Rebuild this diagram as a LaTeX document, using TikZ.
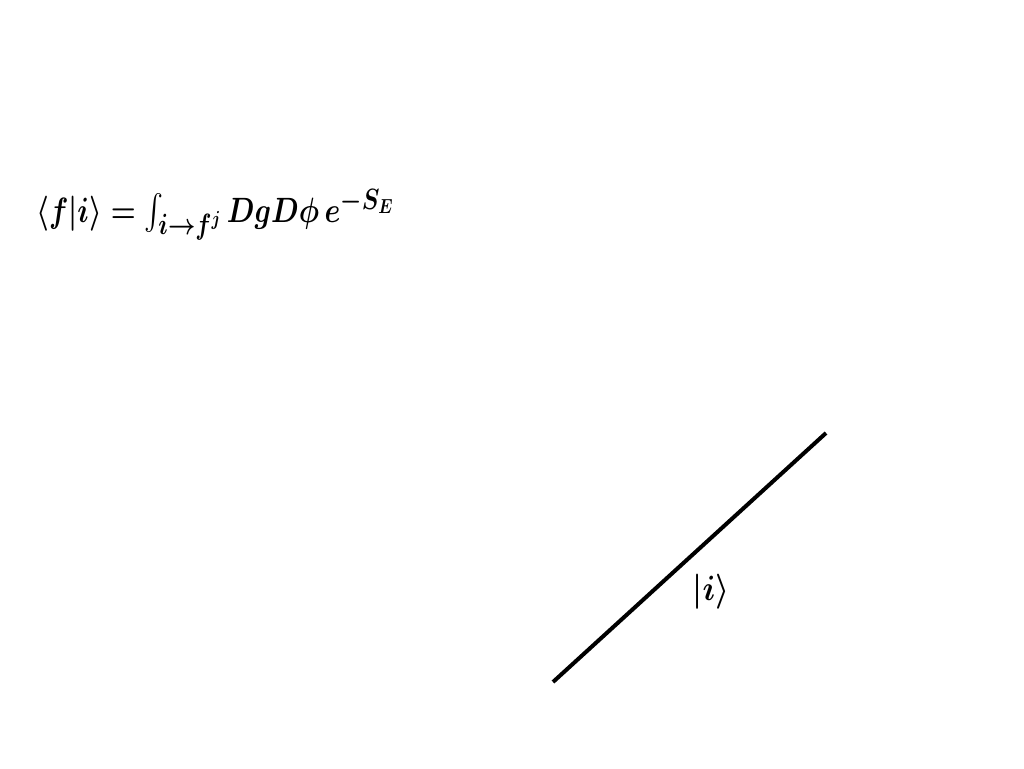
\documentclass[tikz,border=0pt]{standalone}
\usepackage{amsmath}
\usepackage{graphicx}
\begin{document}
\begin{tikzpicture}[x=0.75pt,y=-0.75pt,
  lbl/.style={inner sep=0pt,font=\fontsize{29}{32}\selectfont\boldmath},
  world/.style={line width=3pt}]
\useasboundingbox (0,0) rectangle (1024,768);
\node[lbl,anchor=base west] (formula) at (36,222) {\scalebox{0.86}[1.06]{$\langle f|i\rangle = \textstyle\int_{i\to f^{j}} Dg D\phi\, e^{-S_E}$}};
\coordinate (a) at (553,682);
\coordinate (b) at (826,433);
\draw[world] (a) -- (b);
\node[lbl] (ket) at (711,592) {\scalebox{0.95}[1.06]{$|i\rangle$}};
\end{tikzpicture}
\end{document}
